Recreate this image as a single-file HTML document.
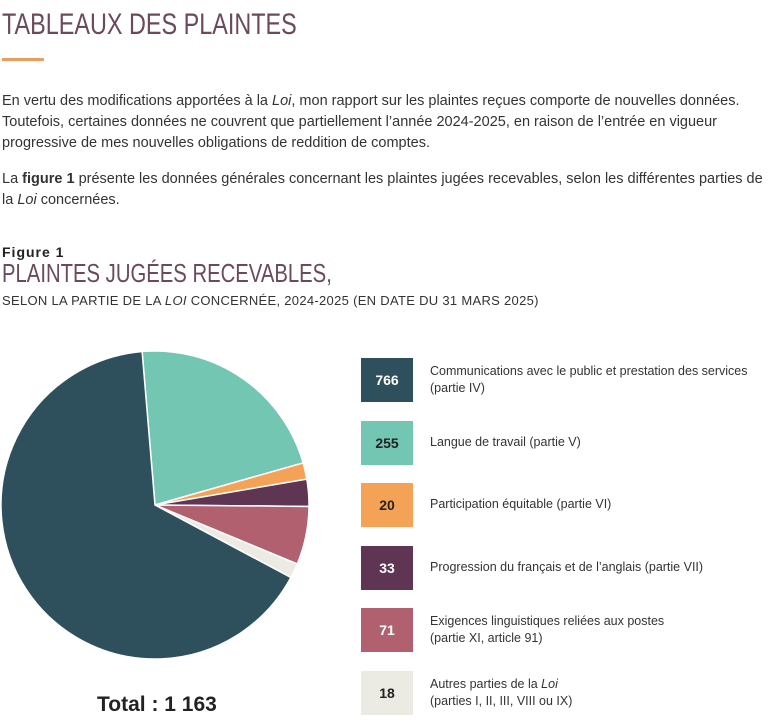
<!DOCTYPE html>
<html><head><meta charset="utf-8">
<style>
body{margin:0;width:777px;height:723px;background:#fff;font-family:"Liberation Sans",sans-serif;color:#333;position:relative;overflow:hidden}
.abs{position:absolute}
h1{position:absolute;left:2px;top:8px;margin:0;font-weight:normal;font-size:30px;color:#6a4a5c;letter-spacing:0;transform:scaleX(0.78);transform-origin:left}
.p{position:absolute;left:2px;font-size:14.5px;line-height:21px;color:#333;width:775px}
.box{position:absolute;left:361px;width:52px;height:44px;font-weight:bold;font-size:14px;display:flex;align-items:center;justify-content:center}
.lt{position:absolute;left:430px;font-size:12.5px;line-height:17px;color:#333}
</style></head><body>
<h1>TABLEAUX DES PLAINTES</h1>
<div class="abs" style="left:2px;top:58px;width:42px;height:3px;background:#e8a060"></div>
<div class="p" style="top:91px">En vertu des modifications apportées à la <i>Loi</i>, mon rapport sur les plaintes reçues comporte de nouvelles données. Toutefois, certaines données ne couvrent que partiellement l’année 2024-2025, en raison de l’entrée en vigueur progressive de mes nouvelles obligations de reddition de comptes.</div>
<div class="p" style="top:169px">La <b>figure 1</b> présente les données générales concernant les plaintes jugées recevables, selon les différentes parties de la <i>Loi</i> concernées.</div>
<div class="abs" style="left:2px;top:244px;font-weight:bold;font-size:14px;letter-spacing:1px;color:#222">Figure 1</div>
<div class="abs" style="left:2px;top:258px;font-size:26px;color:#6a4a5c;transform:scaleX(0.78);transform-origin:left;white-space:nowrap">PLAINTES JUGÉES RECEVABLES,</div>
<div class="abs" style="left:2px;top:293px;font-size:13px;color:#333;letter-spacing:0.3px;white-space:nowrap">SELON LA PARTIE DE LA <i>LOI</i> CONCERNÉE, 2024-2025 (EN DATE DU 31 MARS 2025)</div>
<svg class="abs" style="left:0;top:0" width="777" height="723" id="pie"></svg>
<div class="abs" style="left:97px;top:693px;font-weight:bold;font-size:21px;color:#222">Total : 1 163</div>
<div id="legend"></div>
<script>
const labels=["Langue de travail (partie V)","Participation équitable (partie VI)","Progression du français et de l’anglais (partie VII)","Exigences linguistiques reliées aux postes<br>(partie XI, article 91)","Autres parties de la <i>Loi</i><br>(parties I, II, III, VIII ou IX)","Communications avec le public et prestation des services<br>(partie IV)"];
const values=[255,20,33,71,18,766];
const colors=["#72c6b2","#f4a356","#5e3553","#b0606f","#ecebe3","#2e4f5c"];
const textColors=["#222","#222","#fff","#fff","#222","#fff"];
const legendOrder=[5,0,1,2,3,4];
const svg=document.getElementById('pie');
const cx=155,cy=505,r=154;
const total=values.reduce((a,b)=>a+b,0);
let a=-4.8*Math.PI/180;
const pt=t=>[cx+r*Math.sin(t),cy-r*Math.cos(t)];
values.forEach((v,i)=>{
  const s=a,e=a+v/total*2*Math.PI;a=e;
  const [x1,y1]=pt(s),[x2,y2]=pt(e);
  const p=document.createElementNS('http://www.w3.org/2000/svg','path');
  p.setAttribute('d',`M${cx},${cy}L${x1},${y1}A${r},${r} 0 ${e-s>Math.PI?1:0} 1 ${x2},${y2}Z`);
  p.setAttribute('fill',colors[i]);p.setAttribute('stroke','#fff');p.setAttribute('stroke-width','1.5');
  
  
  svg.appendChild(p);
});
const lg=document.getElementById('legend');
legendOrder.forEach((idx,k)=>{
  const top=358+k*62.5;
  const b=document.createElement('div');b.className='box';
  b.style.top=top+'px';b.style.background=colors[idx];b.style.color=textColors[idx];
  b.textContent=values[idx];
  
  
  lg.appendChild(b);
  const t=document.createElement('div');t.className='lt';
  t.innerHTML=labels[idx];
  const two=labels[idx].includes('<br>');
  t.style.top=(top+(two?5:13))+'px';
  
  
  lg.appendChild(t);
});
</script>
</body></html>
